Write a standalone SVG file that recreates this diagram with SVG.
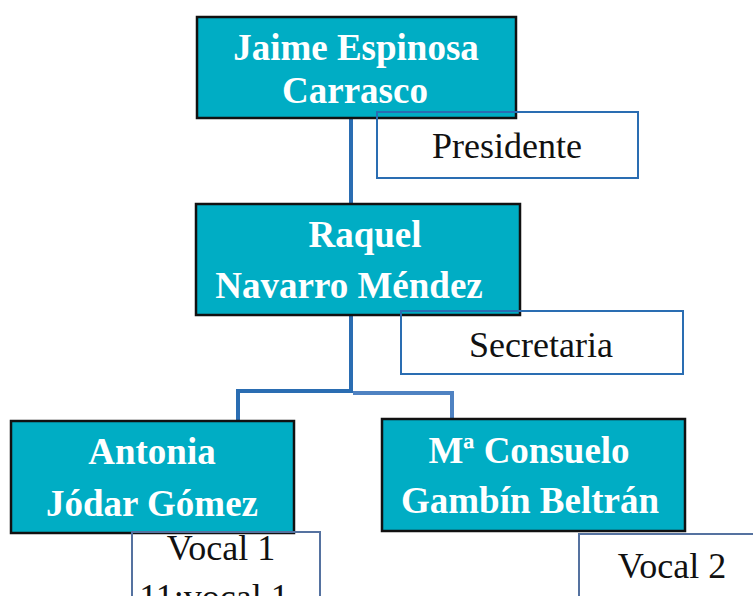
<svg xmlns="http://www.w3.org/2000/svg" width="753" height="596" viewBox="0 0 753 596">
<style>
.node{fill:#00adc4;stroke:#111;stroke-width:2.5}
.nt{font-family:"Liberation Serif",serif;font-weight:bold;font-size:37px;fill:#fff;text-anchor:middle}
.lbfill{fill:#fff;stroke:none}
.lb{fill:none;stroke:#2a6db2;stroke-width:2}
.lb2{fill:none;stroke:#5572a0;stroke-width:2}
.lt{font-family:"Liberation Serif",serif;font-size:36px;fill:#111;text-anchor:middle}
.conn{fill:none;stroke:#2a6db2;stroke-width:4}
.conn2{fill:none;stroke:#4f82c2;stroke-width:4}
</style>
<rect width="753" height="596" fill="#fff"/>
<g id="connectors">
<line class="conn" x1="351" y1="118" x2="351" y2="204"/>
<polyline class="conn" points="351,315 351,391 238,391 238,422"/>
<polyline class="conn2" points="353,393 452,393 452,419"/>
</g>
<g id="label-presidente-bg"><rect class="lbfill" x="377" y="112" width="261" height="66"/></g>
<g id="label-secretaria-bg"><rect class="lbfill" x="401" y="311" width="282" height="63"/></g>
<g id="label-vocal1-bg"><rect class="lbfill" x="132" y="532" width="188" height="70"/></g>
<g id="label-vocal2-bg"><rect class="lbfill" x="579" y="534" width="180" height="70"/></g>
<g id="node-jaime">
<rect class="node" x="197" y="17" width="319" height="101"/>
<text class="nt" x="356" y="60">Jaime Espinosa</text>
<text class="nt" x="355" y="103">Carrasco</text>
</g>
<g id="node-raquel">
<rect class="node" x="196" y="204" width="324" height="111"/>
<text class="nt" x="365" y="247">Raquel</text>
<text class="nt" x="349" y="298">Navarro Méndez</text>
</g>
<g id="node-antonia">
<rect class="node" x="11" y="421" width="283" height="112"/>
<text class="nt" x="152" y="464">Antonia</text>
<text class="nt" x="152" y="516">Jódar Gómez</text>
</g>
<g id="node-consuelo">
<rect class="node" x="382" y="419" width="303" height="112"/>
<text class="nt" x="529" y="463">Mª Consuelo</text>
<text class="nt" x="530" y="513">Gambín Beltrán</text>
</g>
<g id="label-presidente">
<rect class="lb" x="377" y="112" width="261" height="66"/>
<text class="lt" x="507" y="158">Presidente</text>
</g>
<g id="label-secretaria">
<rect class="lb" x="401" y="311" width="282" height="63"/>
<text class="lt" x="541" y="357">Secretaria</text>
</g>
<g id="label-vocal1">
<rect class="lb2" x="132" y="532" width="188" height="70"/>
<text class="lt" x="221" y="560">Vocal 1</text>
<text class="lt" x="214" y="609" font-size="33">11:vocal 1</text>
</g>
<g id="label-vocal2">
<rect class="lb2" x="579" y="534" width="180" height="70"/>
<text class="lt" x="672" y="578">Vocal 2</text>
</g>
</svg>
